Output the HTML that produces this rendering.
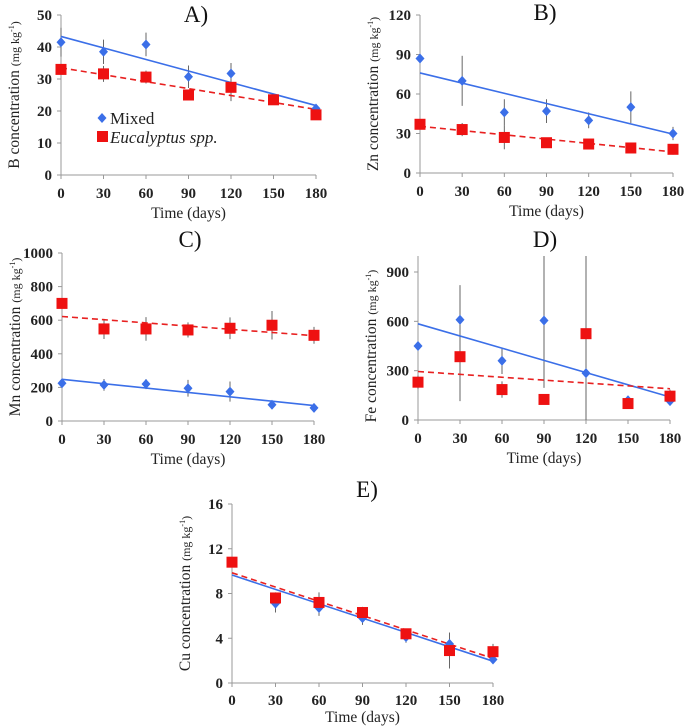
<!DOCTYPE html>
<html><head><meta charset="utf-8"><style>
html,body{margin:0;padding:0;background:#fff}
svg, svg text{font-family:"Liberation Serif","DejaVu Serif",serif}
svg{display:block}
.tk{font-weight:bold;font-size:15px;fill:#222}
.at{font-size:15.5px;fill:#222}
.pt{font-size:23px;fill:#111}
</style></head><body>
<svg id="fig" width="685" height="727" viewBox="0 0 685 727" font-family="Liberation Serif, serif" xmlns="http://www.w3.org/2000/svg"></svg>
<script>
const days = [0,30,60,90,120,150,180];
const xTicks = ["0","30","60","90","120","150","180"];
// A) Boron
const bMixed = [41.5,38.5,40.8,30.7,31.7,23.5,20.8];
const bMixedErr = [4.5,3.8,3.7,3.5,3.3,1,0.5];
const bEuc = [33,31.6,30.6,25,27.4,23.5,18.8];
const bEucErr = [1,2.5,2,1.5,4.3,1.2,1.5];
const bTrend = [43.3,21.7,33.5,20.5];
const bTicks = [0,10,20,30,40,50];
// B) Zinc
const znMixed = [87,70,46,47,40,50,30];
const znMixedErr = [0,19,10,9,6,12,5];
const znEuc = [37,33,27,23,22,19,18];
const znEucErr = [3,5,9,2,2,1,4];
const znTrend = [76,29.5,35.5,16];
const znTicks = [0,30,60,90,120];
// C) Manganese
const mnMixed = [225,215,220,195,175,97,78];
const mnMixedErr = [15,35,30,50,60,20,10];
const mnEuc = [700,548,548,542,552,570,510];
const mnEucErr = [0,60,70,45,65,85,50];
const mnTrend = [248,92,622,508];
const mnTicks = [0,200,400,600,800,1000];
// D) Iron
const feMixed = [450,610,360,605,285,120,115];
const feMixedErr = [0,210,80,410,720,10,10];
const feEuc = [230,385,185,125,525,100,145];
const feEucErr = [40,270,50,10,20,5,40];
const feTrend = [585,140,295,190];
const feTicks = [0,300,600,900];
// E) Copper
const cuMixed = [10.8,7.1,6.7,5.8,4.1,3.5,2.1];
const cuMixedErr = [0,0.8,0.7,0.6,0.5,1,0.2];
const cuEuc = [10.8,7.6,7.2,6.3,4.4,2.9,2.8];
const cuEucErr = [0,0.5,0.9,0.5,0.3,1.6,0.7];
const cuTrend = [9.65,1.95,9.85,2.2];
const cuTicks = [0,4,8,12,16];

const NS="http://www.w3.org/2000/svg";
const svg=document.getElementById('fig');
const FF='Liberation Serif, DejaVu Serif, serif';
function mk(tag,attrs,parent,txt){const e=document.createElementNS(NS,tag);for(const k in attrs)e.setAttribute(k,attrs[k]);if(tag==='text')e.setAttribute('font-family',FF);if(txt!==undefined)e.textContent=txt;(parent||svg).appendChild(e);return e;}

function panel(p){
  const g=mk('g',{});
  
  
  const xs=v=>p.x0+(v-0)/180*(p.x1-p.x0);
  const ys=v=>p.y0-(v-0)/p.ymax*(p.y0-p.ytop);
  const axTop=p.axTop!==undefined?p.axTop:p.ytop;
  const tOff=p.tOff||23, aOff=p.aOff||43;
  const ya=mk('line',{x1:p.x0,y1:p.y0,x2:p.x0,y2:axTop,stroke:'#999','stroke-width':1},g);
  
  const xa=mk('line',{x1:p.x0,y1:p.y0,x2:p.x1,y2:p.y0,stroke:'#999','stroke-width':1},g);
  
  p.yt.forEach(v=>{
    mk('line',{x1:p.x0-4,y1:ys(v),x2:p.x0,y2:ys(v),stroke:'#999'},g);
    const t=mk('text',{x:p.x0-9,y:ys(v)+5,'text-anchor':'end',class:'tk'},g,String(v));
    
  });
  days.forEach((d,i)=>{
    mk('line',{x1:xs(d),y1:p.y0,x2:xs(d),y2:p.y0+4,stroke:'#999'},g);
    const t=mk('text',{x:xs(d),y:p.y0+tOff,'text-anchor':'middle',class:'tk'},g,xTicks[i]);
    
  });
  const xt=mk('text',{x:(p.x0+p.x1)/2,y:p.y0+aOff,'text-anchor':'middle',class:'at'},g,'Time (days)');
  
  const yc=(p.y0+p.ytop)/2;
  const yt=mk('text',{x:0,y:0,'text-anchor':'middle',class:'at',transform:`translate(${p.x0-42},${yc}) rotate(-90)`},g);
  
  mk('tspan',{},yt,p.el+' concentration ');
  mk('tspan',{'font-size':'12'},yt,'(mg kg');
  mk('tspan',{'font-size':'8',dy:'-5'},yt,'-1');
  mk('tspan',{'font-size':'12',dy:'5'},yt,')');
  const pt=mk('text',{x:p.tx,y:p.ty,'text-anchor':'middle',class:'pt'},g,p.title);
  
  const cl=v=>Math.max(axTop,Math.min(p.y0,v));
  [[p.mix,p.mixE],[p.euc,p.eucE]].forEach(([vals,errs])=>{
    vals.forEach((v,i)=>{if(!errs[i])return;
      const e=mk('line',{x1:xs(days[i]),x2:xs(days[i]),y1:cl(ys(v-errs[i])),y2:cl(ys(v+errs[i])),stroke:'#666','stroke-width':1},g);
      
    });
  });
  const tm=mk('line',{x1:xs(0),y1:ys(p.tr[0]),x2:xs(180),y2:ys(p.tr[1]),stroke:'#3b6fe8','stroke-width':1.6},g);
  
  const te=mk('line',{x1:xs(0),y1:ys(p.tr[2]),x2:xs(180),y2:ys(p.tr[3]),stroke:'#e82020','stroke-width':1.6,'stroke-dasharray':'6,4'},g);
  
  p.mix.forEach((v,i)=>{const cx=xs(days[i]),cy=ys(v);
    const m=mk('path',{d:`M${cx},${cy-5}L${cx+4.5},${cy}L${cx},${cy+5}L${cx-4.5},${cy}Z`,fill:'#3b6fe8'},g);
    });
  p.euc.forEach((v,i)=>{const cx=xs(days[i]),cy=ys(v);
    const m=mk('rect',{x:cx-5.5,y:cy-5.5,width:11,height:11,fill:'#ee1111'},g);
    });
  return g;
}
panel({key:'a',el:'B',title:'A)',tx:196,ty:22,x0:61,x1:316,y0:175,ytop:15,ymax:50,yt:bTicks,mix:bMixed,mixE:bMixedErr,euc:bEuc,eucE:bEucErr,tr:bTrend});
panel({key:'b',el:'Zn',title:'B)',tx:545,ty:20,x0:420,x1:673,y0:173,ytop:15,ymax:120,yt:znTicks,mix:znMixed,mixE:znMixedErr,euc:znEuc,eucE:znEucErr,tr:znTrend});
panel({key:'c',el:'Mn',title:'C)',tx:190,ty:247,x0:62,x1:314,y0:421,ytop:253,ymax:1000,yt:mnTicks,mix:mnMixed,mixE:mnMixedErr,euc:mnEuc,eucE:mnEucErr,tr:mnTrend});
panel({key:'d',el:'Fe',title:'D)',tx:545,ty:247,x0:418,x1:670,y0:420,ytop:272,ymax:900,axTop:256,yt:feTicks,mix:feMixed,mixE:feMixedErr,euc:feEuc,eucE:feEucErr,tr:feTrend});
panel({key:'e',el:'Cu',title:'E)',tx:367,ty:497,x0:232,x1:493,y0:683,ytop:504,ymax:16,yt:cuTicks,mix:cuMixed,mixE:cuMixedErr,euc:cuEuc,eucE:cuEucErr,tr:cuTrend,tOff:22,aOff:39});
const lg=mk('g',{});


mk('path',{d:'M102,113L106.5,118L102,123L97.5,118Z',fill:'#3b6fe8'},lg);
const l1=mk('text',{x:110,y:124,'font-size':'17',fill:'#222'},lg,'Mixed');


mk('rect',{x:97,y:131,width:11,height:11,fill:'#ee1111'},lg);
const l2=mk('text',{x:110,y:143,'font-size':'17','font-style':'italic',fill:'#222'},lg,'Eucalyptus spp.');


</script>
</body></html>
